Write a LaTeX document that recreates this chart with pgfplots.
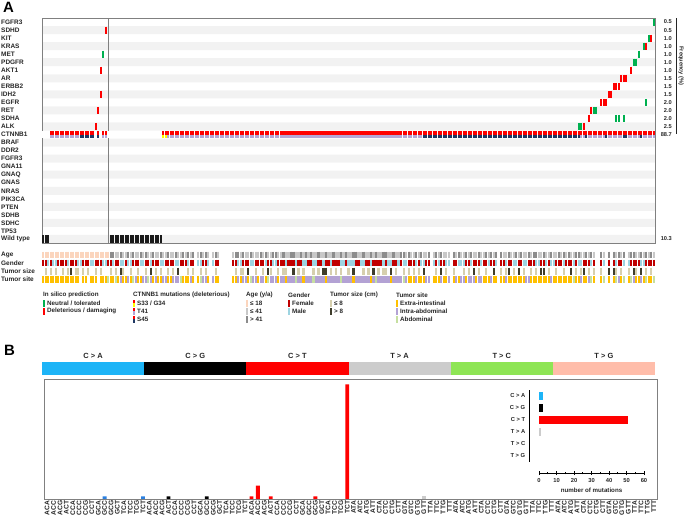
\documentclass[border=0pt]{standalone}
\usepackage{pgfplots}
\pgfplotsset{compat=1.18}
\usepackage{pgfplotstable}
\usepackage{fontspec}
\setmainfont{Liberation Sans}
\definecolor{stripe}{HTML}{F2F2F2}
\definecolor{frame}{HTML}{808080}
\definecolor{mutred}{HTML}{FF0000}
\definecolor{mutgreen}{HTML}{00B050}
\definecolor{lav}{HTML}{B4A7D6}
\definecolor{navy}{HTML}{1F3864}
\definecolor{yel}{HTML}{FFFF00}
\definecolor{wt}{HTML}{1A1A1A}
\definecolor{agep}{HTML}{FBD5BD}
\definecolor{agel}{HTML}{C8C8C8}
\definecolor{aged}{HTML}{8C8C8C}
\definecolor{fem}{HTML}{C00000}
\definecolor{male}{HTML}{9DD4E1}
\definecolor{sizes}{HTML}{D6CFAE}
\definecolor{sizeb}{HTML}{3F3D2B}
\definecolor{sitee}{HTML}{FFC000}
\definecolor{sitei}{HTML}{B3A2D4}
\definecolor{sitea}{HTML}{C6DFA0}
\definecolor{txt}{HTML}{262626}
\definecolor{bCA}{HTML}{1DB4F7}
\definecolor{bCT}{HTML}{FF0000}
\definecolor{bTA}{HTML}{CCCCCC}
\definecolor{bTC}{HTML}{8EE555}
\definecolor{bTG}{HTML}{FFBDAA}
\definecolor{barblue}{HTML}{2B80E0}

\pgfplotstableread{
c k a g s t
0 n p f n e
1 n p f s e
2 n p m n e
3 v p f s e
4 v p m n e
5 v p m s e
6 v p f n e
7 v p f n e
8 v p f s e
9 v p f n e
10 v p m s e
11 v p f b e
12 v p f n e
13 v p f s e
14 v p m s e
15 u p m n n
16 u p f s e
17 u p f n e
18 u p f s n
19 u p m n e
20 u p m n e
21 n p f s e
22 u p f n n
23 n p f s e
24 v p m n e
25 v p m n e
26 n p f n a
27 n d f s e
28 n d m n e
29 n l f s a
30 n l f n e
31 n d m b i
32 n l m s e
33 n l f n e
34 n d m n i
35 n l m s e
36 n d f n a
37 n l f n i
38 n l f s e
39 n d m n e
40 n l m n i
41 n d f s i
42 n l f n a
43 n l m b i
44 n d f n e
45 n l f s i
46 n l f n e
47 n d m s e
48 y l m n i
49 y l f n i
50 v d f s e
51 v l f n e
52 v l f s i
53 v d m n i
54 v l m b i
55 v l f n a
56 v d f n e
57 v l f n e
58 v d m s e
59 v l f n i
60 v d f s e
61 v n n n n
62 v l m n e
63 v d m s a
64 v l f n i
65 v d f s i
66 v l m n e
67 v n n n n
68 v l m n i
69 v d f s e
70 v l f n e
71 v n n n n
72 v n n n n
73 v n n n n
74 v n n n n
75 v n n n n
76 v l f n e
77 v d f s e
78 v d m n i
79 v l m s e
80 v d f s i
81 v l f n i
82 v l f b e
83 v d m n a
84 v l m n i
85 v l f s i
86 v l f n e
87 v d f n i
88 v l f s i
89 v d m n e
90 v l f b a
91 v l f s i
92 v d m n i
93 v d m n i
94 v l f s e
95 v l f n i
96 v d f s i
97 v l m s e
98 v l f n i
99 v d f n i
100 v d f b i
101 v l m n a
102 v l f s i
103 v d f n i
104 v l m s e
105 v d m n i
106 v l f n i
107 v d f n i
108 v l m s a
109 v l m n i
110 v d f s i
111 v l f n i
112 v l m b i
113 v d f b e
114 v l f n i
115 v l m s i
116 v d f n i
117 v l f s i
118 v l f n i
119 v d m s a
120 v l m n i
121 v d f n i
122 v l m s i
123 v l m n i
124 v d m b e
125 v d f n i
126 v l f n i
127 v l m n i
128 v d m s i
129 v l f n i
130 v l f s i
131 v d m n e
132 v l f b i
133 v d f n a
134 v l f s i
135 v l f n i
136 v d m s i
137 v d f s i
138 v l m n i
139 v l m b e
140 v d f n i
141 v l f s i
142 v l m n i
143 v d f n i
144 v d m s a
145 v l m n i
146 v d f s e
147 v l f n e
148 v l f s e
149 v d m n i
150 v l f s e
151 v d m n e
152 u l m b e
153 u l f n i
154 u d f n i
155 u n n n n
156 u l m n e
157 u d f s e
158 u l m n e
159 u d f b i
160 u l f n e
161 u l m s e
162 u l m n i
163 u n n n n
164 u d f s e
165 u l f n i
166 u d m n e
167 u l m n i
168 u l m s i
169 u d f n e
170 u l f s i
171 u d m n i
172 u l f b i
173 u l f n e
174 u d f s i
175 u l m n i
176 u l f n e
177 u d f s e
178 u l m n e
179 u d f n i
180 u l f b e
181 u d m n e
182 u n n n n
183 u d f s e
184 u l f n e
185 u l m s i
186 u d f b e
187 u l f n e
188 u l m s e
189 u d m n e
190 u l f b e
191 u d f n e
192 u l m s e
193 u l m n i
194 u d f n i
195 u l f s e
196 u d f n e
197 u d m s e
198 u l m n e
199 u l f b e
200 u d f b e
201 u l m n e
202 u l f s e
203 u d m n i
204 u l m n e
205 u l f s e
206 u d f n e
207 u l f n e
208 u d m s e
209 u l f n e
210 u d f n e
211 u l f b e
212 u l m n a
213 u d f s e
214 u d m n e
215 v l m s i
216 v l f b e
217 u d f n e
218 v l f s i
219 v d m n a
220 v l f s e
221 v n n n n
222 v n n n n
223 v d f s e
224 v l m n a
225 u n n n n
226 v d f b e
227 v n n n n
228 v d f b e
229 v l m s a
230 v d f n i
231 v l f s e
232 u d m n a
233 u n n n n
234 v l m s e
235 v d f n a
236 v d f b i
237 v l f s e
238 v l f n e
239 u d m b i
240 v l m n e
241 v d f s a
242 v l f n e
243 v d f s e
244 v l f n a
}\annot

\begin{document}
\begin{tikzpicture}
\useasboundingbox (0,0) rectangle (685bp,-518bp);

% ---------------- Panel A ----------------
\begin{axis}[
  at={(42bp,-18bp)}, anchor=north west, scale only axis,
  width=613bp, height=225bp,
  xmin=0, xmax=245, ymin=-0.5, ymax=27.5, y dir=reverse,
  axis on top,
  axis line style={draw=frame, line width=0.9bp},
  xtick=\empty, ytick={0,...,27},
  yticklabels={FGFR3,SDHD,KIT,KRAS,MET,PDGFR,AKT1,AR,ERBB2,IDH2,EGFR,RET,SDHA,ALK,CTNNB1,BRAF,DDR2,FGFR3,GNA11,GNAQ,GNAS,NRAS,PIK3CA,PTEN,SDHB,SDHC,TP53,Wild type},
  major tick length=0pt,
  yticklabel style={font=\fontsize{6.5}{7}\selectfont\bfseries, text=txt, anchor=west, inner sep=0pt, xshift=-41bp},
  clip=false,
]
% stripes
\addplot[xbar, bar width=1, bar shift=0pt, fill=stripe, draw=none, forget plot]
  coordinates {(245,1) (245,3) (245,5) (245,7) (245,9) (245,11) (245,13) (245,15) (245,17) (245,19) (245,21) (245,23) (245,25) (245,27)};
% separator
\addplot[frame, line width=0.9bp, forget plot] coordinates {(26.5,-0.5) (26.5,27.5)};
% wild type
\addplot[wt, only marks, mark=|, mark size=3.8bp, mark options={line width=2.1bp}, forget plot]
  coordinates {(0.5,27) (1.5,27) (2.5,27) (27.5,27) (28.5,27) (29.5,27) (30.5,27) (31.5,27) (32.5,27) (33.5,27) (34.5,27) (35.5,27) (36.5,27) (37.5,27) (38.5,27) (39.5,27) (40.5,27) (41.5,27) (42.5,27) (43.5,27) (44.5,27) (45.5,27) (46.5,27) (47.5,27)};
% deleterious (red)
\addplot[mutred, only marks, mark=|, mark size=3.5bp, mark options={line width=2.1bp}, forget plot]
  coordinates {(25.5,1) (23.5,6) (235.5,6) (23.5,9) (226.5,9) (227.5,9) (22.5,11) (219.5,11) (21.5,13) (216.5,13)
  (243.5,2) (241.5,3) (231.5,7) (232.5,7) (233.5,7) (228.5,8) (229.5,8) (230.5,8) (223.5,10) (224.5,10) (225.5,10) (218.5,12)};
% neutral (green)
\addplot[mutgreen, only marks, mark=|, mark size=3.5bp, mark options={line width=2.1bp}, forget plot]
  coordinates {(244.5,0) (24.5,4) (238.5,4) (242.5,2) (240.5,3) (236.5,5) (237.5,5) (241.5,10) (220.5,11) (221.5,11)
  (229.5,12) (230.5,12) (232.5,12) (214.5,13) (215.5,13)};
% CTNNB1 top
\addplot[scatter, only marks, mark=|, mark size=1.75bp, mark options={line width=2.1bp},
  point meta=explicit symbolic, scatter/classes={n={white}, y={mutred}, v={mutred}, u={mutred}}, forget plot]
  table[x expr=\thisrow{c}+0.5, y expr=13.78, meta=k] {\annot};
% CTNNB1 bottom
\addplot[scatter, only marks, mark=|, mark size=1.75bp, mark options={line width=2.1bp},
  point meta=explicit symbolic, scatter/classes={n={white}, y={yel}, v={lav}, u={navy}}, forget plot]
  table[x expr=\thisrow{c}+0.5, y expr=14.22, meta=k] {\annot};
% annotations
\addplot[scatter, only marks, mark=|, mark size=3.4bp, mark options={line width=2.1bp},
  point meta=explicit symbolic, scatter/classes={n={white}, p={agep}, l={agel}, d={aged}}, forget plot]
  table[x expr=\thisrow{c}+0.5, y expr=29, meta=a] {\annot};
\addplot[scatter, only marks, mark=|, mark size=3.4bp, mark options={line width=2.1bp},
  point meta=explicit symbolic, scatter/classes={n={white}, f={fem}, m={male}}, forget plot]
  table[x expr=\thisrow{c}+0.5, y expr=30, meta=g] {\annot};
\addplot[scatter, only marks, mark=|, mark size=3.4bp, mark options={line width=2.1bp},
  point meta=explicit symbolic, scatter/classes={n={white}, s={sizes}, b={sizeb}}, forget plot]
  table[x expr=\thisrow{c}+0.5, y expr=31, meta=s] {\annot};
\addplot[scatter, only marks, mark=|, mark size=3.4bp, mark options={line width=2.1bp},
  point meta=explicit symbolic, scatter/classes={n={white}, e={sitee}, i={sitei}, a={sitea}}, forget plot]
  table[x expr=\thisrow{c}+0.5, y expr=32, meta=t] {\annot};

\begin{scope}[every node/.style={font=\fontsize{6.5}{7}\selectfont\bfseries, text=txt, inner sep=0pt}]
\node[anchor=west, xshift=-41bp] at (axis cs:0,29) {Age};
\node[anchor=west, xshift=-41bp] at (axis cs:0,30) {Gender};
\node[anchor=west, xshift=-41bp] at (axis cs:0,31) {Tumor size};
\node[anchor=west, xshift=-41bp] at (axis cs:0,32) {Tumor site};
\end{scope}
\begin{scope}[every node/.style={font=\fontsize{5.7}{6}\selectfont\bfseries, text=txt, inner sep=0pt, anchor=east, xshift=17bp}]
\node at (axis cs:245,0) {0.5};
\node at (axis cs:245,1) {0.5};
\node at (axis cs:245,2) {1.0};
\node at (axis cs:245,3) {1.0};
\node at (axis cs:245,4) {1.0};
\node at (axis cs:245,5) {1.0};
\node at (axis cs:245,6) {1.0};
\node at (axis cs:245,7) {1.5};
\node at (axis cs:245,8) {1.5};
\node at (axis cs:245,9) {1.5};
\node at (axis cs:245,10) {2.0};
\node at (axis cs:245,11) {2.0};
\node at (axis cs:245,12) {2.0};
\node at (axis cs:245,13) {2.5};
\node at (axis cs:245,14) {88.7};
\node at (axis cs:245,27) {10.3};
\end{scope}
\end{axis}

\draw[txt, line width=0.6bp] (676bp,-18bp) -- (676bp,-134bp);
\node[rotate=-90, font=\fontsize{5.7}{6}\selectfont\bfseries, text=txt, inner sep=0pt] at (681bp,-66bp) {Frequency (\%)};

% legend
\begin{scope}[every node/.style={font=\fontsize{6.3}{7}\selectfont\bfseries, text=txt, inner sep=0pt, anchor=west}]
\node at (43bp,-295bp) {In silico prediction};
\fill[mutgreen] (43bp,-299.5bp) rectangle (45.2bp,-306.5bp);
\node at (47bp,-303bp) {Neutral / tolerated};
\fill[mutred] (43bp,-307.5bp) rectangle (45.2bp,-314.5bp);
\node at (47bp,-311bp) {Deleterious / damaging};

\node at (133bp,-295bp) {CTNNB1 mutations (deleterious)};
\fill[mutred] (133bp,-299.5bp) rectangle (135.2bp,-303bp);
\fill[yel] (133bp,-303bp) rectangle (135.2bp,-306.5bp);
\node at (137bp,-303bp) {S33 / G34};
\fill[mutred] (133bp,-307.5bp) rectangle (135.2bp,-311bp);
\fill[lav] (133bp,-311bp) rectangle (135.2bp,-314.5bp);
\node at (137bp,-311bp) {T41};
\fill[mutred] (133bp,-315.5bp) rectangle (135.2bp,-319bp);
\fill[navy] (133bp,-319bp) rectangle (135.2bp,-322.5bp);
\node at (137bp,-319bp) {S45};

\node at (246bp,-295bp) {Age (y/a)};
\fill[agep] (246bp,-299.5bp) rectangle (248.2bp,-306.5bp);
\node at (250bp,-303bp) {≤ 18};
\fill[agel] (246bp,-307.5bp) rectangle (248.2bp,-314.5bp);
\node at (250bp,-311bp) {≤ 41};
\fill[aged] (246bp,-315.5bp) rectangle (248.2bp,-322.5bp);
\node at (250bp,-319bp) {> 41};

\node at (288bp,-295bp) {Gender};
\fill[fem] (288bp,-299.5bp) rectangle (290.2bp,-306.5bp);
\node at (292bp,-303bp) {Female};
\fill[male] (288bp,-307.5bp) rectangle (290.2bp,-314.5bp);
\node at (292bp,-311bp) {Male};

\node at (330bp,-295bp) {Tumor size (cm)};
\fill[sizes] (330bp,-299.5bp) rectangle (332.2bp,-306.5bp);
\node at (334bp,-303bp) {≤ 8};
\fill[sizeb] (330bp,-307.5bp) rectangle (332.2bp,-314.5bp);
\node at (334bp,-311bp) {> 8};

\node at (396bp,-295bp) {Tumor site};
\fill[sitee] (396bp,-299.5bp) rectangle (398.2bp,-306.5bp);
\node at (400bp,-303bp) {Extra-intestinal};
\fill[sitei] (396bp,-307.5bp) rectangle (398.2bp,-314.5bp);
\node at (400bp,-311bp) {Intra-abdominal};
\fill[sitea] (396bp,-315.5bp) rectangle (398.2bp,-322.5bp);
\node at (400bp,-319bp) {Abdominal};
\end{scope}

\node[anchor=north west, inner sep=0pt, font=\fontsize{15}{15}\selectfont\bfseries] at (3bp,-2bp) {A};
\node[anchor=north west, inner sep=0pt, font=\fontsize{15}{15}\selectfont\bfseries] at (4bp,-345bp) {B};

% ---------------- Panel B: band ----------------
\begin{axis}[at={(42bp,-362bp)}, anchor=north west, scale only axis, width=613bp, height=12.5bp,
  xmin=0, xmax=96, ymin=0, ymax=1, axis lines=none, ticks=none, clip=false]
\addplot[ybar, bar width=16, bar shift=0pt, fill=bCA, draw=none] coordinates {(8,1)};
\addplot[ybar, bar width=16, bar shift=0pt, fill=black, draw=none] coordinates {(24,1)};
\addplot[ybar, bar width=16, bar shift=0pt, fill=bCT, draw=none] coordinates {(40,1)};
\addplot[ybar, bar width=16, bar shift=0pt, fill=bTA, draw=none] coordinates {(56,1)};
\addplot[ybar, bar width=16, bar shift=0pt, fill=bTC, draw=none] coordinates {(72,1)};
\addplot[ybar, bar width=16, bar shift=0pt, fill=bTG, draw=none] coordinates {(88,1)};
\begin{scope}[every node/.style={font=\fontsize{7.5}{8}\selectfont\bfseries, text=txt, inner sep=0pt, anchor=south, yshift=3.5bp}]
\node at (axis cs:8,1) {C > A};
\node at (axis cs:24,1) {C > G};
\node at (axis cs:40,1) {C > T};
\node at (axis cs:56,1) {T > A};
\node at (axis cs:72,1) {T > C};
\node at (axis cs:88,1) {T > G};
\end{scope}
\end{axis}

% ---------------- Panel B: spectrum ----------------
\begin{axis}[at={(44bp,-379bp)}, anchor=north west, scale only axis, width=613bp, height=120bp,
  xmin=-0.5, xmax=95.5, ymin=0, ymax=45, axis on top,
  axis line style={draw=frame, line width=1bp},
  ytick=\empty, xtick={0,...,95}, xtick style={draw=none},
  xticklabels={ACA,ACC,ACG,ACT,CCA,CCC,CCG,CCT,GCA,GCC,GCG,GCT,TCA,TCC,TCG,TCT,
               ACA,ACC,ACG,ACT,CCA,CCC,CCG,CCT,GCA,GCC,GCG,GCT,TCA,TCC,TCG,TCT,
               ACA,ACC,ACG,ACT,CCA,CCC,CCG,CCT,GCA,GCC,GCG,GCT,TCA,TCC,TCG,TCT,
               ATA,ATC,ATG,ATT,CTA,CTC,CTG,CTT,GTA,GTC,GTG,GTT,TTA,TTC,TTG,TTT,
               ATA,ATC,ATG,ATT,CTA,CTC,CTG,CTT,GTA,GTC,GTG,GTT,TTA,TTC,TTG,TTT,
               ATA,ATC,ATG,ATT,CTA,CTC,CTG,CTT,GTA,GTC,GTG,GTT,TTA,TTC,TTG,TTT},
  xticklabel style={rotate=90, anchor=east, font=\fontsize{6.7}{7}\selectfont\bfseries, text=txt, inner sep=1.5bp}]
\addplot[ybar, bar width=0.6, bar shift=0pt, fill=barblue, draw=none] coordinates {(9,1) (15,1)};
\addplot[ybar, bar width=0.6, bar shift=0pt, fill=black, draw=none] coordinates {(19,1) (25,1)};
\addplot[ybar, bar width=0.6, bar shift=0pt, fill=bCT, draw=none] coordinates {(32,1) (33,5) (35,1) (42,1) (47,43)};
\addplot[ybar, bar width=0.6, bar shift=0pt, fill=bTA, draw=none] coordinates {(59,1)};
\end{axis}

% inset
\begin{axis}[at={(529bp,-390bp)}, anchor=north west, scale only axis, width=115bp, height=72bp,
  xmin=-5.714, xmax=60, ymin=-0.5, ymax=5.5, y dir=reverse,
  axis x line=none, axis y line=left, y axis line style={-, draw=black, line width=1bp},
  ytick={0,...,5}, yticklabels={C > A,C > G,C > T,T > A,T > C,T > G},
  ytick style={draw=none}, xtick=\empty,
  yticklabel style={font=\fontsize{5.8}{6}\selectfont\bfseries, text=txt, inner sep=1.5bp}]
\addplot[xbar, bar width=0.7, bar shift=0pt, fill=bCA, draw=none] coordinates {(2,0)};
\addplot[xbar, bar width=0.7, bar shift=0pt, fill=black, draw=none] coordinates {(2,1)};
\addplot[xbar, bar width=0.7, bar shift=0pt, fill=bCT, draw=none] coordinates {(51,2)};
\addplot[xbar, bar width=0.7, bar shift=0pt, fill=bTA, draw=none] coordinates {(1,3)};
\end{axis}
\begin{axis}[at={(539bp,-473bp)}, anchor=south west, scale only axis, width=105bp, height=5bp,
  xmin=0, xmax=60, ymin=0, ymax=1,
  axis x line=bottom, axis y line=none, x axis line style={-, draw=black, line width=1bp},
  xtick={0,10,...,60}, minor x tick num=1, tick align=center,
  major tick length=4bp, minor tick length=2.5bp, tick style={black, line width=0.8bp},
  /pgf/number format/assume math mode=true,
  xticklabel style={font=\fontsize{5.8}{6}\selectfont\bfseries, text=txt, inner sep=0pt, yshift=-3.5bp},
  xlabel={number of mutations},
  xlabel style={at={(axis description cs:0.5,0)}, anchor=north, font=\fontsize{6.2}{7}\selectfont\bfseries, text=txt, inner sep=0pt, yshift=-14.5bp}]
\addplot[draw=none] coordinates {(0,0) (60,0)};
\end{axis}
\end{tikzpicture}
\end{document}
